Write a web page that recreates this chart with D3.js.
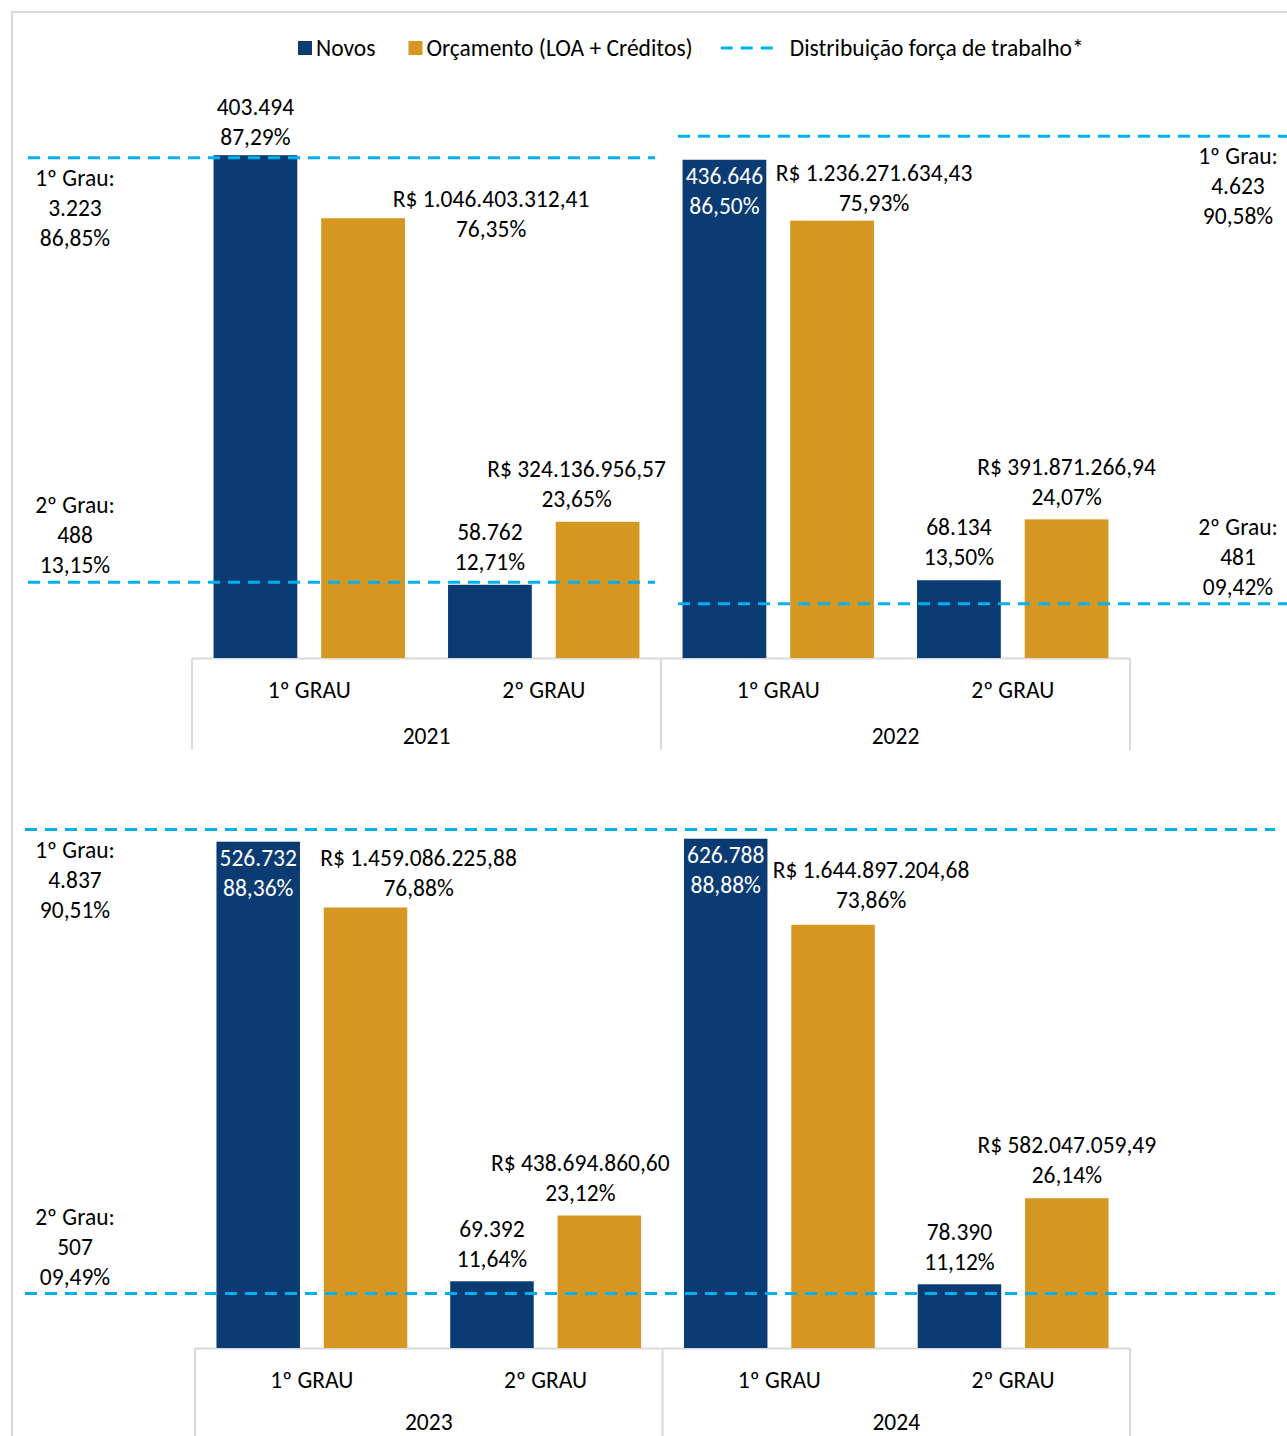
<!DOCTYPE html>
<html>
<head>
<meta charset="utf-8">
<script src="https://cdn.jsdelivr.net/npm/d3@7"></script>
<style>
  body { margin: 0; background: #fff; }
  text { font-family: Carlito, Calibri, "Liberation Sans Narrow", "Open Sans", sans-serif; font-size: 23.5px; fill: #000; }
</style>
</head>
<body>
<div id="chart"></div>
<script>
// dados
const years = ["2021", "2022", "2023", "2024"];
const graus = ["1º GRAU", "2º GRAU"];
const series = ["Novos", "Orçamento (LOA + Créditos)"];
const lineName = "Distribuição força de trabalho*";

const novosQtd = [[403494, 58762], [436646, 68134], [526732, 69392], [626788, 78390]];
const novosPct = [[87.29, 12.71], [86.50, 13.50], [88.36, 11.64], [88.88, 11.12]];
const orcValor = [[1046403312.41, 324136956.57], [1236271634.43, 391871266.94],
                  [1459086225.88, 438694860.60], [1644897204.68, 582047059.49]];
const orcPct = [[76.35, 23.65], [75.93, 24.07], [76.88, 23.12], [73.86, 26.14]];

const forcaAnos = ["2021", "2022", "2023"];
const forcaGraus = ["1º Grau:", "2º Grau:"];
const forcaQtd = [[3223, 488], [4623, 481], [4837, 507]];
const forcaPct = [[86.85, 13.15], [90.58, 9.42], [90.51, 9.49]];

// layout
const W = 1287, H = 1436;
const colors = { "Novos": "#0b3b73", "Orçamento (LOA + Créditos)": "#d69722" };
const lineColor = "#00b0f0";
const gridColor = "#d9d9d9";

const br = d3.formatLocale({ decimal: ",", thousands: ".", grouping: [3], currency: ["R$ ", ""] });
const fQtd = br.format(",d");
const fPct = v => br.format(".2f")(v) + "%";
const fPct0 = v => br.format("05.2f")(v) + "%";
const fBRL = br.format("$,.2f");

const panels = [
  { years: ["2021", "2022"], base: 658, top: 82, x0: 192, x1: 1130, catY: 690, yearY: 736, axisEnd: 750 },
  { years: ["2023", "2024"], base: 1348, top: 775, x0: 195, x1: 1130, catY: 1380, yearY: 1422, axisEnd: 1440 }
];

// rótulos que o autor moveu à mão
const novosInside = { "2022|1º GRAU": true, "2023|1º GRAU": true, "2024|1º GRAU": true };
const novosNudge = { "2021|1º GRAU": [0, 5] };
const orcNudge = {
  "2021|1º GRAU": [128, 34], "2021|2º GRAU": [-21, 0], "2022|1º GRAU": [42, 5],
  "2023|1º GRAU": [53, 3], "2023|2º GRAU": [-19, 0], "2024|1º GRAU": [38, -2]
};

const svg = d3.select("#chart").append("svg").attr("width", W).attr("height", H);
svg.append("rect").attr("width", W).attr("height", H).attr("fill", "#fff");
svg.append("rect").attr("x", 12).attr("y", 12).attr("width", W).attr("height", H)
  .attr("fill", "none").attr("stroke", gridColor).attr("stroke-width", 2);

// legenda
var legend = svg.append("g").attr("transform", "translate(0,48)");
var lx = 298;
series.forEach(function(s) {
  legend.append("rect").attr("x", lx).attr("y", -7).attr("width", 14).attr("height", 14).attr("fill", colors[s]);
  var t = legend.append("text").attr("x", lx + 18).attr("dy", "0.35em").text(s);
  lx += 18 + t.node().getComputedTextLength() + 33;
});
lx -= 5;
legend.append("line").attr("x1", lx).attr("x2", lx + 59)
  .attr("stroke", lineColor).attr("stroke-width", 3).attr("stroke-dasharray", "12,8");
legend.append("text").attr("x", lx + 69).attr("dy", "0.35em").text(lineName);

function twoLines(g, x, y1, t1, t2, fill) {
  [t1, t2].forEach(function(t, i) {
    g.append("text").attr("x", x).attr("y", y1 + i * 30).attr("dy", "0.35em")
      .attr("text-anchor", "middle").style("fill", fill || "#000").text(t);
  });
}

panels.forEach(function(p, pi) {
  var keys = [];
  p.years.forEach(yr => graus.forEach(gr => keys.push(yr + "|" + gr)));

  var x = d3.scaleBand().domain(keys).range([p.x0, p.x1]);
  var xs = d3.scaleBand().domain(series).range([0, x.bandwidth()]).paddingInner(0.222).paddingOuter(0.2);
  var y = d3.scaleLinear().domain([0, 100]).range([p.base, p.top]);
  var g = svg.append("g");

  var rows = [];
  p.years.forEach(function(yr) {
    var yi = years.indexOf(yr);
    graus.forEach(function(gr, gi) {
      rows.push({ key: yr + "|" + gr, serie: series[0], pct: novosPct[yi][gi], l1: fQtd(novosQtd[yi][gi]) });
      rows.push({ key: yr + "|" + gr, serie: series[1], pct: orcPct[yi][gi], l1: fBRL(orcValor[yi][gi]) });
    });
  });

  // eixo de categorias
  g.append("line").attr("x1", p.x0).attr("x2", p.x1).attr("y1", p.base + 0.5).attr("y2", p.base + 0.5)
    .attr("stroke", gridColor).attr("stroke-width", 2);
  d3.range(p.years.length + 1).forEach(function(i) {
    var vx = p.x0 + i * graus.length * x.bandwidth();
    g.append("line").attr("x1", vx).attr("x2", vx).attr("y1", p.base).attr("y2", p.axisEnd)
      .attr("stroke", gridColor).attr("stroke-width", 2);
  });
  keys.forEach(function(k) {
    g.append("text").attr("x", x(k) + x.bandwidth() / 2).attr("y", p.catY).attr("dy", "0.35em")
      .attr("text-anchor", "middle").text(k.split("|")[1]);
  });
  p.years.forEach(function(yr) {
    g.append("text").attr("x", x(yr + "|" + graus[0]) + x.bandwidth()).attr("y", p.yearY).attr("dy", "0.35em")
      .attr("text-anchor", "middle").text(yr);
  });

  // barras
  g.selectAll("rect.bar").data(rows).join("rect").attr("class", "bar")
    .attr("x", d => x(d.key) + xs(d.serie))
    .attr("width", xs.bandwidth())
    .attr("y", d => y(d.pct))
    .attr("height", d => y(0) - y(d.pct))
    .attr("fill", d => colors[d.serie]);

  // rótulos das barras
  rows.forEach(function(d) {
    var cx = x(d.key) + xs(d.serie) + xs.bandwidth() / 2;
    var top = y(d.pct);
    if (d.serie === series[0]) {
      if (novosInside[d.key]) {
        twoLines(g, cx, top + 16, d.l1, fPct(d.pct), "#fff");
      } else {
        var n = novosNudge[d.key] || [0, 0];
        twoLines(g, cx + n[0], top - 53 + n[1], d.l1, fPct(d.pct));
      }
    } else {
      var o = orcNudge[d.key] || [0, 0];
      twoLines(g, cx + o[0], top - 53 + o[1], d.l1, fPct(d.pct));
    }
  });

  // linhas da força de trabalho
  p.years.forEach(function(yr, i) {
    var fi = forcaAnos.indexOf(yr);
    if (fi < 0) return;
    var single = forcaAnos.indexOf(p.years[1]) < 0;
    var yearStart = x(yr + "|" + graus[0]);
    var yearEnd = yearStart + graus.length * x.bandwidth();
    var xa, xb, labelX;
    if (single) { xa = 25; xb = 1275; labelX = 75; }
    else if (i === 0) { xa = 28; xb = yearEnd - 6; labelX = 75; }
    else { xa = yearStart + 17; xb = W; labelX = 1238; }

    forcaGraus.forEach(function(fg, gi) {
      var ly = y(forcaPct[fi][gi]);
      g.append("line").attr("x1", xa).attr("x2", xb).attr("y1", ly).attr("y2", ly)
        .attr("stroke", lineColor).attr("stroke-width", 3).attr("stroke-dasharray", "12,8");
      var lines = [fg, fQtd(forcaQtd[fi][gi]), fPct0(forcaPct[fi][gi])];
      var y0 = gi === 0 ? ly + 20 : ly - 17 - 60;
      lines.forEach(function(t, li) {
        g.append("text").attr("x", labelX).attr("y", y0 + li * 30).attr("dy", "0.35em")
          .attr("text-anchor", "middle").text(t);
      });
    });
  });
});
</script>
</body>
</html>
